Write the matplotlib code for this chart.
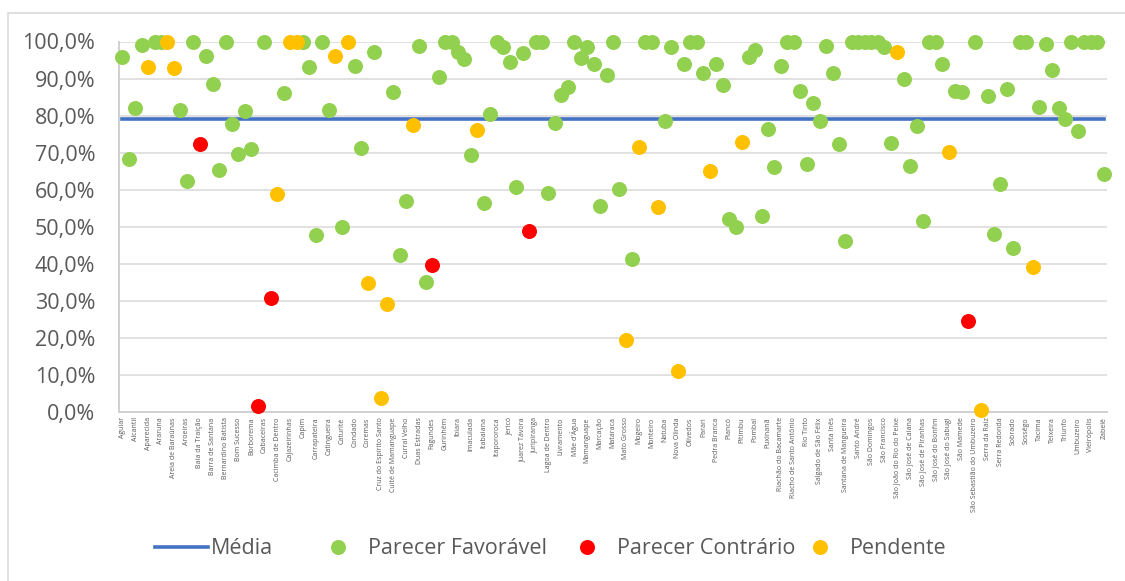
import matplotlib.pyplot as plt
from matplotlib.lines import Line2D
from matplotlib.patches import Rectangle
from matplotlib.ticker import FuncFormatter

# municipios rotulados (o Excel mostra so um a cada dois)
rotulos = ['Aguiar', 'Alcantil', 'Aparecida', 'Araruna', 'Areia de Baraúnas', 'Aroeiras',
           'Baía da Traição', 'Barra de Santana', 'Bernardino Batista', 'Bom Sucesso',
           'Borborema', 'Cabaceiras', 'Cacimba de Dentro', 'Cajazeirinhas', 'Capim',
           'Carrapateira', 'Catingueira', 'Caturité', 'Condado', 'Coremas',
           'Cruz do Espírito Santo', 'Cuité de Mamanguape', 'Curral Velho', 'Duas Estradas',
           'Fagundes', 'Gurinhém', 'Ibiara', 'Imaculada', 'Itabaiana', 'Itapororoca',
           'Jericó', 'Juarez Távora', 'Juripiranga', 'Lagoa de Dentro', 'Livramento',
           "Mãe d'Água", 'Mamanguape', 'Marcação', 'Mataraca', 'Mato Grosso', 'Mogeiro',
           'Monteiro', 'Natuba', 'Nova Olinda', 'Olivedos', 'Parari', 'Pedra Branca',
           'Piancó', 'Pitimbu', 'Pombal', 'Puxinanã', 'Riachão do Bacamarte',
           'Riacho de Santo Antônio', 'Rio Tinto', 'Salgado de São Félix', 'Santa Inês',
           'Santana de Mangueira', 'Santo André', 'São Domingos', 'São Francisco',
           'São João do Rio do Peixe', 'São José de Caiana', 'São José de Piranhas',
           'São José do Bonfim', 'São José do Sabugi', 'São Mamede',
           'São Sebastião do Umbuzeiro', 'Serra da Raiz', 'Serra Redonda', 'Sobrado',
           'Sossêgo', 'Tacima', 'Teixeira', 'Triunfo', 'Umbuzeiro', 'Vieirópolis', 'Zabelê']

# percentual por municipio (153 pontos)
valores = [95.9, 68.2, 82.0, 99.0, 93.0, 100, 100, 100, 92.8, 81.5,
           62.3, 100, 72.2, 96.1, 88.5, 65.3, 100, 77.7, 69.6, 81.2,
           70.9, 1.5, 100, 30.8, 58.7, 86.2, 100, 100, 100, 93.1,
           47.7, 100, 81.4, 96.1, 50.0, 100, 93.4, 71.2, 34.8, 97.1,
           3.8, 29.0, 86.4, 42.4, 56.9, 77.5, 98.8, 35.0, 39.5, 90.4,
           100, 100, 97.1, 95.3, 69.4, 76.1, 56.4, 80.5, 100, 98.6,
           94.5, 60.6, 96.8, 48.7, 100, 100, 59.2, 78.1, 85.6, 87.8,
           100, 95.6, 98.5, 93.9, 55.6, 91.0, 100, 60.1, 19.3, 41.2,
           71.4, 100, 100, 55.3, 78.4, 98.6, 10.9, 93.9, 100, 100,
           91.4, 65.0, 93.9, 88.3, 52.1, 50.0, 72.8, 95.7, 97.6, 52.8,
           76.4, 66.2, 93.5, 100, 100, 86.5, 67.0, 83.3, 78.4, 98.9,
           91.4, 72.4, 46.1, 100, 100, 100, 100, 100, 98.5, 72.7,
           97.1, 89.9, 66.5, 77.1, 51.5, 100, 100, 93.9, 70.2, 86.7,
           86.4, 24.5, 100, 0.5, 85.4, 48.1, 61.4, 87.2, 44.2, 100,
           99.8, 39.0, 82.4, 99.3, 92.2, 82.0, 79.2, 100, 75.7, 100,
           100, 100, 64.3]

# F = parecer favoravel, C = parecer contrario, P = pendente
situacao = list('FFFFPFFPPF'
                'FFCFFFFFFF'
                'FCFCPFPPFF'
                'FFFPFPFFPF'
                'PPFFFPFFCF'
                'FFFFFPFFFF'
                'FFFCFFFFFF'
                'FFFFFFFFPF'
                'PFFPFFPFFF'
                'FPFFFFPFFF'
                'FFFFFFFFFF'
                'FFFFFFFFFF'
                'PFFFFFFFPF'
                'FCFPFFFFFF'
                'FPFFFFFFFF'
                'FFF')

media = 79.2

series = [('F', 'Parecer Favorável', '#92D050'),
          ('C', 'Parecer Contrário', '#FF0000'),
          ('P', 'Pendente', '#FFC000')]

cinza = '#595959'

fig = plt.figure(figsize=(11.25, 5.81), dpi=100)
ax = fig.add_axes([119 / 1125, 169.3 / 581, 988 / 1125, 370.2 / 581])

n = len(valores)
x = list(range(n))

ax.plot([0, n - 1], [media / 100, media / 100], color='#4472C4', lw=2.6, zorder=2)
handles = [Line2D([], [], color='#4472C4', lw=2.6)]
labels = ['Média']
for cod, nome, cor in series:
    xs = [i for i in x if situacao[i] == cod]
    ys = [valores[i] / 100 for i in x if situacao[i] == cod]
    ax.plot(xs, ys, 'o', ms=10.8, color=cor, mec='none', clip_on=False, zorder=3)
    handles.append(Line2D([], [], ls='none', marker='o', ms=10.8, color=cor, mec='none'))
    labels.append(nome)

ax.set_xlim(-0.5, n - 0.5)
ax.set_ylim(0, 1)
ax.set_yticks([i / 10 for i in range(11)])
ax.yaxis.set_major_formatter(FuncFormatter(lambda v, p: f'{v * 100:.1f}%'.replace('.', ',')))
ax.grid(axis='y', color='#D9D9D9', lw=1.1)
ax.set_axisbelow(True)
for s in ['top', 'right']:
    ax.spines[s].set_visible(False)
for s in ['left', 'bottom']:
    ax.spines[s].set_color('#D0D0D0')
    ax.spines[s].set_linewidth(1.4)
ax.tick_params(axis='y', length=0, pad=17, labelsize=15.5, labelcolor=cinza)
ax.tick_params(axis='x', length=0, pad=4, labelcolor=cinza)
for t in ax.get_yticklabels():
    t.set_family('Open Sans')

ax.set_xticks(x[::2])
ax.set_xticklabels(rotulos, rotation=90, ha='center', va='top', fontsize=5.0,
                   family=['Liberation Sans Narrow', 'Open Sans'])

# legenda, uma entrada por vez para seguir o espacamento do Excel
pos_leg = [155, 312, 561, 794]
for h, lab, px in zip(handles, labels, pos_leg):
    fig.legend([h], [lab], loc='center left', bbox_to_anchor=(px / 1125, 1 - 549 / 581),
               frameon=False, borderpad=0, borderaxespad=0, handlelength=2.46,
               handletextpad=0.14, prop={'family': 'Open Sans', 'size': 15.5},
               labelcolor=cinza)

# moldura do grafico
fig.patches.append(Rectangle((7.5 / 1125, -0.05), 1.1, 1.05 - 13 / 581, transform=fig.transFigure,
                             fill=False, ec='#D9D9D9', lw=1.2))

fig.savefig('out.png', dpi=100)
